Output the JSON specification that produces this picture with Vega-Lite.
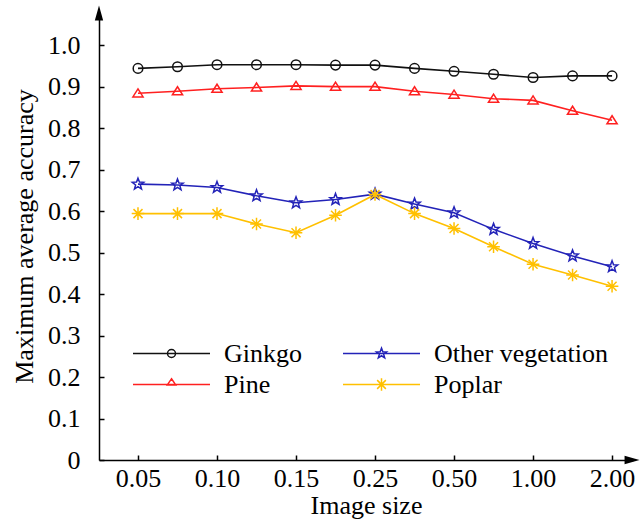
{
  "$schema": "https://vega.github.io/schema/vega-lite/v6.json",
  "width": 534,
  "height": 448,
  "autosize": {"type": "none"},
  "padding": {"left": 99, "top": 12, "right": 8, "bottom": 63},
  "background": "white",
  "config": {
    "view": {"stroke": null},
    "font": "Liberation Serif",
    "axis": {"labelFont": "Liberation Serif", "titleFont": "Liberation Serif", "labelColor": "black", "titleColor": "black", "titleFontWeight": "normal", "labelFontSize": 26, "titleFontSize": 26, "domainColor": "black", "domainWidth": 1.5, "tickColor": "black", "tickWidth": 1.5, "grid": false},
    "legend": {"labelFont": "Liberation Serif", "labelFontSize": 26, "labelColor": "black"}
  },
  "data": {"values": [
    {"i": 0, "series": "Ginkgo", "acc": 0.944}, {"i": 1, "series": "Ginkgo", "acc": 0.948}, {"i": 2, "series": "Ginkgo", "acc": 0.953}, {"i": 3, "series": "Ginkgo", "acc": 0.953}, {"i": 4, "series": "Ginkgo", "acc": 0.953}, {"i": 5, "series": "Ginkgo", "acc": 0.952}, {"i": 6, "series": "Ginkgo", "acc": 0.952}, {"i": 7, "series": "Ginkgo", "acc": 0.944}, {"i": 8, "series": "Ginkgo", "acc": 0.937}, {"i": 9, "series": "Ginkgo", "acc": 0.930}, {"i": 10, "series": "Ginkgo", "acc": 0.922}, {"i": 11, "series": "Ginkgo", "acc": 0.926}, {"i": 12, "series": "Ginkgo", "acc": 0.926},
    {"i": 0, "series": "Pine", "acc": 0.884}, {"i": 1, "series": "Pine", "acc": 0.889}, {"i": 2, "series": "Pine", "acc": 0.895}, {"i": 3, "series": "Pine", "acc": 0.898}, {"i": 4, "series": "Pine", "acc": 0.902}, {"i": 5, "series": "Pine", "acc": 0.900}, {"i": 6, "series": "Pine", "acc": 0.900}, {"i": 7, "series": "Pine", "acc": 0.889}, {"i": 8, "series": "Pine", "acc": 0.881}, {"i": 9, "series": "Pine", "acc": 0.871}, {"i": 10, "series": "Pine", "acc": 0.867}, {"i": 11, "series": "Pine", "acc": 0.842}, {"i": 12, "series": "Pine", "acc": 0.819},
    {"i": 0, "series": "Other vegetation", "acc": 0.665}, {"i": 1, "series": "Other vegetation", "acc": 0.663}, {"i": 2, "series": "Other vegetation", "acc": 0.657}, {"i": 3, "series": "Other vegetation", "acc": 0.637}, {"i": 4, "series": "Other vegetation", "acc": 0.620}, {"i": 5, "series": "Other vegetation", "acc": 0.628}, {"i": 6, "series": "Other vegetation", "acc": 0.641}, {"i": 7, "series": "Other vegetation", "acc": 0.617}, {"i": 8, "series": "Other vegetation", "acc": 0.596}, {"i": 9, "series": "Other vegetation", "acc": 0.556}, {"i": 10, "series": "Other vegetation", "acc": 0.522}, {"i": 11, "series": "Other vegetation", "acc": 0.492}, {"i": 12, "series": "Other vegetation", "acc": 0.466},
    {"i": 0, "series": "Poplar", "acc": 0.594}, {"i": 1, "series": "Poplar", "acc": 0.594}, {"i": 2, "series": "Poplar", "acc": 0.594}, {"i": 3, "series": "Poplar", "acc": 0.569}, {"i": 4, "series": "Poplar", "acc": 0.548}, {"i": 5, "series": "Poplar", "acc": 0.590}, {"i": 6, "series": "Poplar", "acc": 0.640}, {"i": 7, "series": "Poplar", "acc": 0.594}, {"i": 8, "series": "Poplar", "acc": 0.558}, {"i": 9, "series": "Poplar", "acc": 0.514}, {"i": 10, "series": "Poplar", "acc": 0.472}, {"i": 11, "series": "Poplar", "acc": 0.446}, {"i": 12, "series": "Poplar", "acc": 0.419}
  ]},
  "layer": [
    {
      "mark": {"type": "line", "strokeWidth": 1.6},
      "encoding": {
        "x": {"field": "i", "type": "quantitative", "scale": {"domain": [-0.987, 12.53], "nice": false, "zero": false},
          "axis": {"title": "Image size", "values": [0, 2, 4, 6, 8, 10, 12], "labelExpr": "['0.05','0.10','0.15','0.25','0.50','1.00','2.00'][round(datum.value/2)]", "tickSize": -5, "labelPadding": 10, "titlePadding": 1, "labelFlush": false}},
        "y": {"field": "acc", "type": "quantitative", "scale": {"domain": [0, 1.08], "nice": false, "zero": false},
          "axis": {"title": "Maximum average accuracy", "values": [0, 0.1, 0.2, 0.3, 0.4, 0.5, 0.6, 0.7, 0.8, 0.9, 1.0], "labelExpr": "datum.value == 0 ? '0' : format(datum.value, '.1f')", "tickSize": -5, "labelPadding": 24, "titlePadding": 10}},
        "stroke": {"field": "series", "type": "nominal", "legend": null, "scale": {"domain": ["Pine", "Ginkgo", "Poplar", "Other vegetation"], "range": ["#ff2020", "#111111", "#ffc000", "#2323b8"]}},
        "detail": {"field": "series"}
      }
    },
    {
      "mark": {"type": "point", "filled": false, "strokeWidth": 1.5, "size": 144, "opacity": 1},
      "encoding": {
        "x": {"field": "i", "type": "quantitative"},
        "y": {"field": "acc", "type": "quantitative"},
        "color": {"field": "series", "type": "nominal", "scale": {"domain": ["Ginkgo", "Other vegetation", "Pine", "Poplar"], "range": ["#111111", "#2323b8", "#ff2020", "#ffc000"]},
          "legend": {"title": null, "orient": "none", "direction": "horizontal", "legendX": 33, "legendY": 326, "columns": 2, "columnPadding": 40, "rowPadding": 0, "clipHeight": 31, "padding": 0, "symbolSize": 5929, "symbolStrokeWidth": 1.5, "symbolFillColor": "transparent", "labelOffset": 13, "labelFontSize": 26, "labelLimit": 400,
            "symbolType": {"expr": "datum.value === 'Ginkgo' ? 'M-1,0H1M-0.104,0A0.104,0.104 0 1,0 0.104,0A0.104,0.104 0 1,0 -0.104,0Z' : datum.value === 'Pine' ? 'M-1,0H1M0,-0.15L0.11,0.01L-0.11,0.01Z' : datum.value === 'Other vegetation' ? 'M-1,0H1M0,-0.14L0.0346,-0.0476L0.133,-0.0433L0.0559,0.0182L0.0823,0.1133L0,0.0588L-0.0823,0.1133L-0.0559,0.0182L-0.133,-0.0433L-0.0346,-0.0476Z' : 'M-1,0H1M0,-0.16V0.16M-0.113,-0.113L0.113,0.113M-0.113,0.113L0.113,-0.113'"}}},
        "shape": {"field": "series", "type": "nominal", "legend": null, "scale": {"domain": ["Pine", "Ginkgo", "Poplar", "Other vegetation"], "range": [
          "M0,-0.75L0.85,0.6L-0.85,0.6Z",
          "M-0.8,0A0.8,0.8 0 1,0 0.8,0A0.8,0.8 0 1,0 -0.8,0Z",
          "M-1.05,0H1.05M0,-1.05V1.05M-0.75,-0.75L0.75,0.75M-0.75,0.75L0.75,-0.75",
          "M0,-1L0.247,-0.34L0.951,-0.309L0.399,0.13L0.588,0.809L0,0.42L-0.588,0.809L-0.399,0.13L-0.951,-0.309L-0.247,-0.34Z"
        ]}}
      }
    },
    {
      "data": {"values": [{"ax": -0.987, "ay": 1.08}]},
      "mark": {"type": "point", "filled": true, "color": "black", "opacity": 1, "size": 676, "shape": "M0,-0.5L0.32,0.65L-0.32,0.65Z"},
      "encoding": {"x": {"field": "ax", "type": "quantitative"}, "y": {"field": "ay", "type": "quantitative"}}
    },
    {
      "data": {"values": [{"ax": 12.53, "ay": 0}]},
      "mark": {"type": "point", "filled": true, "color": "black", "opacity": 1, "size": 676, "shape": "M0.5,0L-0.65,0.32L-0.65,-0.32Z"},
      "encoding": {"x": {"field": "ax", "type": "quantitative"}, "y": {"field": "ay", "type": "quantitative"}}
    }
  ]
}
